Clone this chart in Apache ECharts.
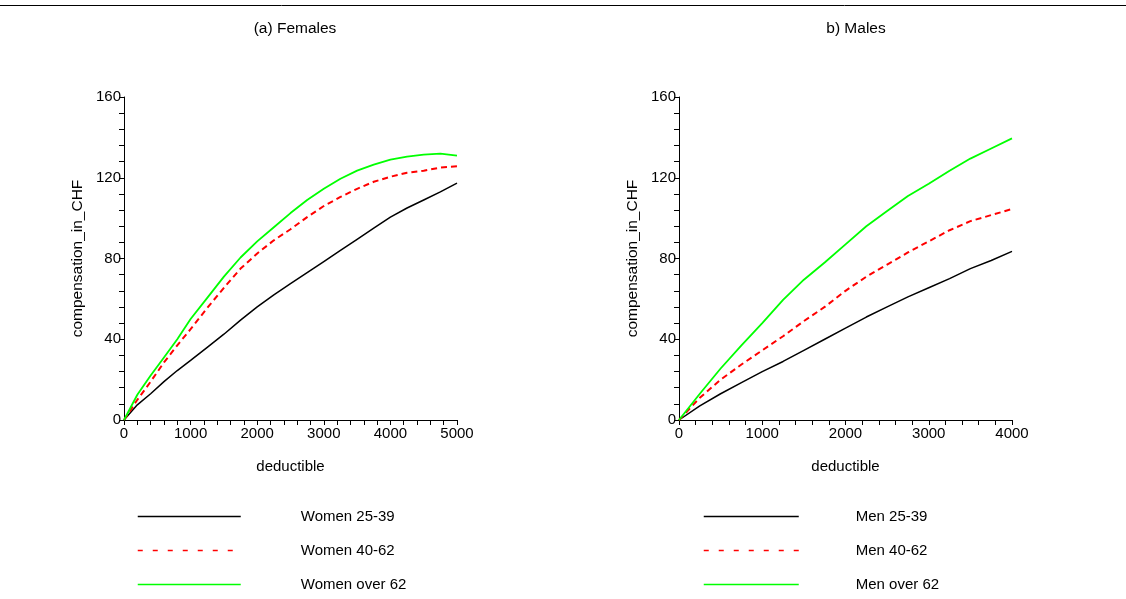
<!DOCTYPE html>
<html>
<head>
<meta charset="utf-8">
<script src="https://cdn.jsdelivr.net/npm/echarts@6/dist/echarts.min.js"></script>
<style>html,body{margin:0;padding:0;background:#fff}#c{width:1126px;height:599px}</style>
</head>
<body>
<div id="c"></div>
<script>
// Females (panel a)
const femX = [0,200,400,600,800,1000,1250,1500,1750,2000,2250,2500,2750,3000,3250,3500,3750,4000,4250,4500,4750,5000];
const women25_39 = [0,7.5,13,19,24.5,29.5,36,42.5,49.5,56,62,67.5,73,78.5,84,89.5,95,100.5,105,109,113,117.3];
const women40_62 = [0,10,19,28.5,37,45,55.5,65.5,75,82.5,89,94.5,100.5,106,110.5,114.5,118,120.5,122.5,123.5,125,125.7];
const womenOver62 = [0,12.5,22,31,40,50,60.5,71,80.5,88.5,95.5,102.5,109,114.5,119.5,123.5,126.5,129,130.5,131.5,132,131];
// Males (panel b)
const maleX = [0,250,500,750,1000,1250,1500,1750,2000,2250,2500,2750,3000,3250,3500,3750,4000];
const men25_39 = [0,7,13,18.5,24,29,34.5,40,45.5,51,56,61,65.5,70,75,79,83.5];
const men40_62 = [0,11,20,27.5,34.5,41.5,49,56,64,71,77,83,88.5,94,98.5,101.5,104.5];
const menOver62 = [0,13,25.5,37,48,59.5,69.5,78,87,96,103.5,111,117,123.5,129.5,134.5,139.5];

const titles = ['(a) Females', 'b) Males'];
const femNames = ['Women 25-39','Women 40-62','Women over 62'];
const maleNames = ['Men 25-39','Men 40-62','Men over 62'];
const yTicks = {min:0, max:160, interval:40};
const xFem = {min:0, max:5000, interval:1000};
const xMale = {min:0, max:4000, interval:1000};

const FONT = 'Liberation Sans, Arial, sans-serif';
const pair = (xs, ys) => xs.map((x,i)=>[x, ys[i]]);

function xAxisCfg(idx, range){
  return {
    type:'value', gridIndex:idx, min:range.min, max:range.max, interval:range.interval,
    name:'deductible', nameLocation:'middle', nameGap:39,
    nameTextStyle:{color:'#000', fontSize:15, fontFamily:FONT},
    axisLine:{show:true, onZero:false, lineStyle:{color:'#000', width:1}},
    axisTick:{show:true, inside:false, length:5, lineStyle:{color:'#000'}},
    minorTick:{show:true, splitNumber:5, length:5, lineStyle:{color:'#000'}},
    axisLabel:{color:'#000', fontSize:15, fontFamily:FONT, margin:6, formatter:v=>String(v)},
    splitLine:{show:false}
  };
}
function yAxisCfg(idx){
  return {
    type:'value', gridIndex:idx, min:yTicks.min, max:yTicks.max, interval:yTicks.interval,
    name:'compensation_in_CHF', nameLocation:'middle', nameGap:38,
    nameTextStyle:{color:'#000', fontSize:15.5, fontFamily:FONT},
    axisLine:{show:true, onZero:false, lineStyle:{color:'#000', width:1}},
    axisTick:{show:true, inside:false, length:5, lineStyle:{color:'#000'}},
    minorTick:{show:true, splitNumber:5, length:5, lineStyle:{color:'#000'}},
    axisLabel:{color:'#000', fontSize:15, fontFamily:FONT, margin:3, formatter:v=>String(v)},
    splitLine:{show:false}
  };
}
const styles = [
  {color:'#000000', type:'solid', width:1.5},
  {color:'#ff0000', type:[6,4], width:2},
  {color:'#00ff00', type:'solid', width:1.8}
];
function mk(name, xs, ys, i, gi){
  return {
    type:'line', name:name, xAxisIndex:gi, yAxisIndex:gi,
    data:pair(xs, ys), showSymbol:false, symbol:'none', smooth:false,
    lineStyle:{color:styles[i].color, type:styles[i].type, width:styles[i].width},
    itemStyle:{color:styles[i].color}, animation:false
  };
}
function legendCfg(names, left, itemWidth, textPad){
  return {
    orient:'vertical', left:left, top:509, height:92, padding:0, itemWidth:itemWidth, itemHeight:14, itemGap:19,
    selectedMode:false,
    textStyle:{color:'#000', fontSize:15, fontFamily:FONT, padding:[0,0,0,textPad]},
    data:names.map((n,i)=>({name:n,
      lineStyle:{color:styles[i].color, type: i===1 ? [5,10] : 'solid', width: i===1 ? 1.5 : 1.3},
      itemStyle:{color:'rgba(0,0,0,0)', borderWidth:0, opacity:0}}))
  };
}

const chart = echarts.init(document.getElementById('c'), null, {renderer:'canvas'});
chart.setOption({
  backgroundColor:'#fff',
  animation:false,
  title:[
    {text:titles[0], left:290, top:16, textAlign:'center', textStyle:{color:'#000', fontSize:15.5, fontWeight:'normal', fontFamily:FONT}},
    {text:titles[1], left:851, top:16, textAlign:'center', textStyle:{color:'#000', fontSize:15.5, fontWeight:'normal', fontFamily:FONT}}
  ],
  graphic:[{type:'line', shape:{x1:0,y1:5.5,x2:1126,y2:5.5}, style:{stroke:'#000', lineWidth:1}}],
  grid:[
    {left:124, right:669, top:97, bottom:179, containLabel:false},
    {left:679, right:114, top:97, bottom:179, containLabel:false}
  ],
  xAxis:[xAxisCfg(0,xFem), xAxisCfg(1,xMale)],
  yAxis:[yAxisCfg(0), yAxisCfg(1)],
  legend:[legendCfg(femNames, 137, 103, 55), legendCfg(maleNames, 703, 95, 52)],
  series:[
    mk(femNames[0], femX, women25_39, 0, 0),
    mk(femNames[1], femX, women40_62, 1, 0),
    mk(femNames[2], femX, womenOver62, 2, 0),
    mk(maleNames[0], maleX, men25_39, 0, 1),
    mk(maleNames[1], maleX, men40_62, 1, 1),
    mk(maleNames[2], maleX, menOver62, 2, 1)
  ]
});
</script>
</body>
</html>
